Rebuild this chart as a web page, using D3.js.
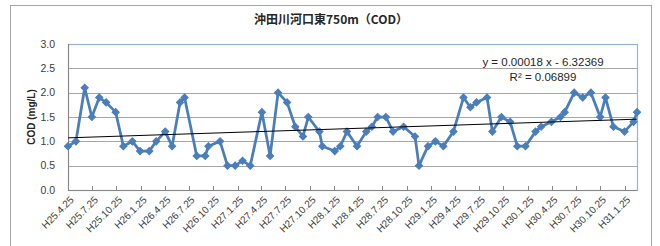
<!DOCTYPE html>
<html>
<head>
<meta charset="utf-8">
<script src="https://cdn.jsdelivr.net/npm/d3@7"></script>
<style>
  body { margin: 0; background: #fff; }
  svg { display: block; }
</style>
</head>
<body>
<div id="chart"></div>
<script>
/* ===== 沖田川河口東750m COD ===== */

// sampling dates and COD values, mg/L
const sampleDates = [
  '2013-04-25', '2013-05-25', '2013-06-27', '2013-07-24', '2013-08-21', '2013-09-16',
  '2013-10-22', '2013-11-20', '2013-12-24', '2014-01-22', '2014-02-26', '2014-03-24',
  '2014-04-27', '2014-05-23', '2014-06-22', '2014-07-09', '2014-08-24', '2014-09-25',
  '2014-10-07', '2014-11-20', '2014-12-18', '2015-01-16', '2015-02-13', '2015-03-14',
  '2015-04-27', '2015-05-28', '2015-06-27', '2015-07-31', '2015-08-31', '2015-09-29',
  '2015-10-19', '2015-11-30', '2015-12-11', '2016-01-27', '2016-02-17', '2016-03-13',
  '2016-04-20', '2016-05-25', '2016-06-15', '2016-07-07', '2016-08-07', '2016-09-03',
  '2016-10-13', '2016-11-25', '2016-12-10', '2017-01-13', '2017-02-10', '2017-03-12',
  '2017-04-19', '2017-05-27', '2017-06-22', '2017-07-15', '2017-08-24', '2017-09-13',
  '2017-10-17', '2017-11-19', '2017-12-16', '2018-01-16', '2018-02-23', '2018-03-16',
  '2018-04-24', '2018-05-28', '2018-06-13', '2018-07-19', '2018-08-20', '2018-09-20',
  '2018-10-25', '2018-11-14', '2018-12-14', '2019-01-25', '2019-02-28', '2019-03-13'
];

const codValues = [
  0.9, 1.0, 2.1, 1.5, 1.9, 1.8,
  1.6, 0.9, 1.0, 0.8, 0.8, 1.0,
  1.2, 0.9, 1.8, 1.9, 0.7, 0.7,
  0.9, 1.0, 0.5, 0.5, 0.6, 0.5,
  1.6, 0.7, 2.0, 1.8, 1.3, 1.1,
  1.5, 1.2, 0.9, 0.8, 0.9, 1.2,
  0.9, 1.2, 1.3, 1.5, 1.5, 1.2,
  1.3, 1.1, 0.5, 0.9, 1.0, 0.9,
  1.2, 1.9, 1.7, 1.8, 1.9, 1.2,
  1.5, 1.4, 0.9, 0.9, 1.2, 1.3,
  1.4, 1.5, 1.6, 2.0, 1.9, 2.0,
  1.5, 1.9, 1.3, 1.2, 1.4, 1.6
];

const tickLabels = [
  'H25.4.25', 'H25.7.25', 'H25.10.25', 'H26.1.25', 'H26.4.25', 'H26.7.25',
  'H26.10.25', 'H27.1.25', 'H27.4.25', 'H27.7.25', 'H27.10.25', 'H28.1.25',
  'H28.4.25', 'H28.7.25', 'H28.10.25', 'H29.1.25', 'H29.4.25', 'H29.7.25',
  'H29.10.25', 'H30.1.25', 'H30.4.25', 'H30.7.25', 'H30.10.25', 'H31.1.25'
];

const yTicks = [0, 0.5, 1.0, 1.5, 2.0, 2.5, 3.0];

const chartTitle = '沖田川河口東750m（COD）';
const yAxisTitle = 'COD (mg/L)';
const trendLabels = ['y = 0.00018 x - 6.32369', 'R² = 0.06899'];

/* ---- helpers ---- */
const parseDate = d3.utcParse('%Y-%m-%d');

// "H25.4.25" -> Heisei 25 = 2013
function parseEra(label) {
  const [y, m, d] = label.slice(1).split('.').map(Number);
  return new Date(Date.UTC(1988 + y, m - 1, d));
}

// Excel serial day number, used for the linear trend
function toSerial(date) {
  return date.getTime() / 86400000 + 25569;
}

/* ---- chart ---- */
const fullWidth = 660;
const fullHeight = 246;
const plot = { left: 68, right: 637, top: 44, bottom: 190 };

const data = sampleDates.map((d, i) => ({ date: parseDate(d), value: codValues[i] }));

const svg = d3.select('#chart')
  .append('svg')
  .attr('width', fullWidth)
  .attr('height', fullHeight);

const fontNum = "'Liberation Sans', Arial, sans-serif";
const fontJp = "'Noto Sans CJK JP', 'Noto Sans', sans-serif";

// outer chart frame
svg.append('rect')
  .attr('x', 10.5).attr('y', 5.5)
  .attr('width', 641).attr('height', 260)
  .attr('fill', '#fff')
  .attr('stroke', '#a6a6a6')
  .attr('stroke-width', 1);

const x = d3.scaleUtc()
  .domain(d3.extent(data, d => d.date))
  .range([plot.left, plot.right]);

const y = d3.scaleLinear()
  .domain([0, 3])
  .range([plot.bottom, plot.top]);

// gridlines
svg.append('g')
  .selectAll('line')
  .data(yTicks.filter(t => t > 0 && t < 3))
  .join('line')
  .attr('x1', plot.left).attr('x2', plot.right)
  .attr('y1', d => Math.round(y(d)) + 0.5)
  .attr('y2', d => Math.round(y(d)) + 0.5)
  .attr('stroke', '#a6a6a6')
  .attr('stroke-width', 1);

// plot area border (blue top / right)
svg.append('rect')
  .attr('x', plot.left + 0.5)
  .attr('y', Math.round(y(3)) + 0.5)
  .attr('width', plot.right - plot.left)
  .attr('height', plot.bottom - Math.round(y(3)))
  .attr('fill', 'none')
  .attr('stroke', '#95b3d7')
  .attr('stroke-width', 1.2);

// axes lines
svg.append('line')
  .attr('x1', plot.left + 0.5).attr('x2', plot.left + 0.5)
  .attr('y1', y(3)).attr('y2', y(0))
  .attr('stroke', '#868686');
svg.append('line')
  .attr('x1', plot.left).attr('x2', plot.right)
  .attr('y1', Math.round(y(0)) + 0.5).attr('y2', Math.round(y(0)) + 0.5)
  .attr('stroke', '#868686');

// y tick labels
svg.append('g')
  .selectAll('text')
  .data(yTicks)
  .join('text')
  .attr('x', 55)
  .attr('y', d => y(d))
  .attr('dy', '0.35em')
  .attr('text-anchor', 'end')
  .attr('fill', '#404040')
  .attr('font-size', '10.5px')
  .attr('font-family', fontNum)
  .text(d => d.toFixed(1));

// y axis title
svg.append('text')
  .attr('transform', `translate(35,${(plot.top + plot.bottom) / 2}) rotate(-90)`)
  .attr('text-anchor', 'middle')
  .attr('fill', '#262626')
  .attr('font-size', '10px')
  .attr('font-weight', 'bold')
  .attr('font-family', fontNum)
  .text(yAxisTitle);

// x ticks (inside) + rotated labels
const tickDates = tickLabels.map(parseEra);

svg.append('g')
  .selectAll('line')
  .data(tickDates)
  .join('line')
  .attr('x1', d => Math.round(x(d)) + 0.5)
  .attr('x2', d => Math.round(x(d)) + 0.5)
  .attr('y1', y(0) - 4).attr('y2', y(0))
  .attr('stroke', '#868686');

svg.append('g')
  .selectAll('text')
  .data(tickLabels)
  .join('text')
  .attr('transform', (d, i) => `translate(${x(tickDates[i]) + 4},${y(0) + 8}) rotate(-45)`)
  .attr('text-anchor', 'end')
  .attr('dy', '0.35em')
  .attr('fill', '#404040')
  .attr('font-size', '10px')
  .attr('font-family', fontNum)
  .text(d => d);

// series line
const line = d3.line()
  .x(d => x(d.date))
  .y(d => y(d.value));

svg.append('path')
  .datum(data)
  .attr('fill', 'none')
  .attr('stroke', '#4a7ebb')
  .attr('stroke-width', 2.75)
  .attr('stroke-linejoin', 'round')
  .attr('d', line);

// diamond markers
const diamond = d3.symbol().type(d3.symbolSquare).size(26);
svg.append('g')
  .selectAll('path')
  .data(data)
  .join('path')
  .attr('transform', d => `translate(${x(d.date)},${y(d.value)}) rotate(45)`)
  .attr('d', diamond)
  .attr('fill', '#4a7ebb')
  .attr('stroke', '#4a7ebb')
  .attr('stroke-width', 1);

// linear trend (least squares on Excel serial dates)
const xs = data.map(d => toSerial(d.date));
const ys = data.map(d => d.value);
const mx = d3.mean(xs), my = d3.mean(ys);
const slope = d3.sum(xs, (v, i) => (v - mx) * (ys[i] - my)) / d3.sum(xs, v => (v - mx) * (v - mx));
const intercept = my - slope * mx;
const trend = x.domain().map(dt => ({ date: dt, value: slope * toSerial(dt) + intercept }));

svg.append('path')
  .datum(trend)
  .attr('fill', 'none')
  .attr('stroke', '#000')
  .attr('stroke-width', 1)
  .attr('d', line);

// trend equation
svg.append('g')
  .selectAll('text')
  .data(trendLabels)
  .join('text')
  .attr('x', 543)
  .attr('y', (d, i) => 66 + i * 15)
  .attr('text-anchor', 'middle')
  .attr('fill', '#262626')
  .attr('font-size', '11.5px')
  .attr('font-family', fontNum)
  .text(d => d);

// title
svg.append('text')
  .attr('x', 331)
  .attr('y', 24)
  .attr('text-anchor', 'middle')
  .attr('fill', '#262626')
  .attr('font-size', '12px')
  .attr('font-weight', 'bold')
  .attr('font-family', fontJp)
  .text(chartTitle);
</script>
</body>
</html>
